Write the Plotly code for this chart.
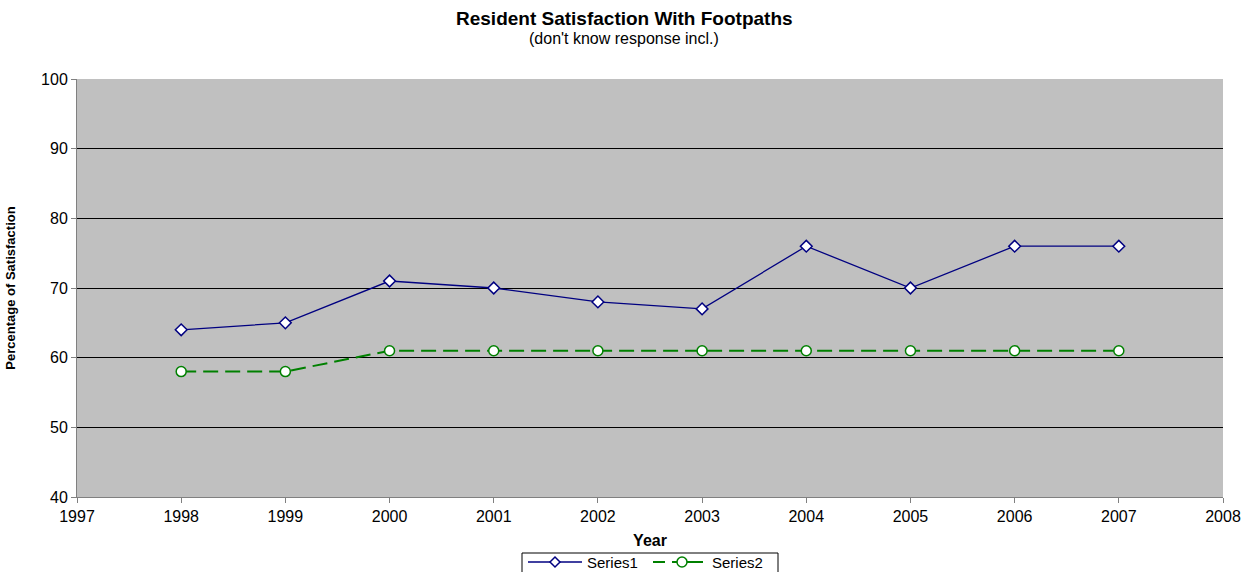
import plotly.graph_objects as go

years = [1998, 1999, 2000, 2001, 2002, 2003, 2004, 2005, 2006, 2007]
series1 = [64, 65, 71, 70, 68, 67, 76, 70, 76, 76]
series2 = [58, 58, 61, 61, 61, 61, 61, 61, 61, 61]
series_names = ["Series1", "Series2"]
x_ticks = list(range(1997, 2009))
y_ticks = [40, 50, 60, 70, 80, 90, 100]

FONT = "Liberation Sans, Arial, sans-serif"
W, H = 1253, 572
PLOT_LEFT, PLOT_RIGHT = 77, 1223
PLOT_TOP, PLOT_BOTTOM = 79, 497
NAVY, GREEN = "#000080", "#008000"


def paper_y(px):
    """Pixel row in the page -> paper fraction of the plotting area."""
    return (PLOT_BOTTOM - px) / (PLOT_BOTTOM - PLOT_TOP)


def paper_x(px):
    """Pixel column in the page -> paper fraction of the plotting area."""
    return (px - PLOT_LEFT) / (PLOT_RIGHT - PLOT_LEFT)


fig = go.Figure()
fig.add_trace(go.Scatter(
    x=years, y=series1, name=series_names[0], mode="lines+markers",
    line=dict(color=NAVY, width=1.3),
    marker=dict(symbol="diamond", size=9, color="white",
                line=dict(color=NAVY, width=1.5)),
))
fig.add_trace(go.Scatter(
    x=years, y=series2, name=series_names[1], mode="lines+markers",
    line=dict(color=GREEN, width=2, dash="15px,7px"),
    marker=dict(symbol="circle", size=10, color="white",
                line=dict(color=GREEN, width=1.5)),
))

# ---- legend box drawn below the axis (keeps it tight to the page bottom) ----
LEG_Y = 562
shapes = [
    dict(type="rect", xref="paper", yref="paper",
         x0=paper_x(522), x1=paper_x(778), y0=paper_y(553), y1=paper_y(576),
         line=dict(color="black", width=1), fillcolor="white", layer="above"),
    # Series1 sample: solid navy line with a diamond
    dict(type="line", xref="paper", yref="paper",
         x0=paper_x(528), x1=paper_x(582), y0=paper_y(LEG_Y), y1=paper_y(LEG_Y),
         line=dict(color=NAVY, width=1.3), layer="above"),
    dict(type="path", xref="paper", yref="paper",
         path="M {a},{m} L {c},{t} L {b},{m} L {c},{btm} Z".format(
             a=paper_x(550), b=paper_x(560), c=paper_x(555),
             m=paper_y(LEG_Y), t=paper_y(LEG_Y - 5), btm=paper_y(LEG_Y + 5)),
         line=dict(color=NAVY, width=1.5), fillcolor="white", layer="above"),
    # Series2 sample: dashed green line with a circle
    dict(type="line", xref="paper", yref="paper",
         x0=paper_x(653), x1=paper_x(665), y0=paper_y(LEG_Y), y1=paper_y(LEG_Y),
         line=dict(color=GREEN, width=2), layer="above"),
    dict(type="line", xref="paper", yref="paper",
         x0=paper_x(672), x1=paper_x(692), y0=paper_y(LEG_Y), y1=paper_y(LEG_Y),
         line=dict(color=GREEN, width=2), layer="above"),
    dict(type="line", xref="paper", yref="paper",
         x0=paper_x(692), x1=paper_x(703), y0=paper_y(LEG_Y), y1=paper_y(LEG_Y),
         line=dict(color=GREEN, width=2), layer="above"),
    dict(type="circle", xref="paper", yref="paper",
         x0=paper_x(677), x1=paper_x(687), y0=paper_y(LEG_Y - 5), y1=paper_y(LEG_Y + 5),
         line=dict(color=GREEN, width=1.5), fillcolor="white", layer="above"),
]

annotations = [
    dict(text="<b>Resident Satisfaction With Footpaths</b>",
         xref="paper", yref="paper", x=paper_x(624), y=paper_y(19),
         xanchor="center", yanchor="middle",
         showarrow=False, font=dict(family=FONT, size=19, color="black")),
    dict(text="(don't know response incl.)",
         xref="paper", yref="paper", x=paper_x(624), y=paper_y(38),
         xanchor="center", yanchor="middle",
         showarrow=False, font=dict(family=FONT, size=16, color="black")),
    dict(text=series_names[0], xref="paper", yref="paper",
         x=paper_x(586), y=paper_y(LEG_Y), xanchor="left", yanchor="middle",
         showarrow=False, borderpad=0, font=dict(family=FONT, size=15, color="black")),
    dict(text=series_names[1], xref="paper", yref="paper",
         x=paper_x(711), y=paper_y(LEG_Y), xanchor="left", yanchor="middle",
         showarrow=False, borderpad=0, font=dict(family=FONT, size=15, color="black")),
]

fig.update_layout(
    width=W, height=H,
    margin=dict(l=PLOT_LEFT, r=W - PLOT_RIGHT, t=PLOT_TOP, b=H - PLOT_BOTTOM,
                autoexpand=False),
    paper_bgcolor="white",
    plot_bgcolor="#c0c0c0",
    font=dict(family=FONT, size=15, color="black"),
    showlegend=False,
    xaxis=dict(
        range=[1997, 2008], tickvals=x_ticks, ticktext=[str(v) for v in x_ticks],
        showgrid=False, zeroline=False,
        showline=True, linecolor="#808080", linewidth=1,
        ticks="outside", ticklen=5, tickcolor="#808080",
        title=dict(text="<b>Year</b>", font=dict(size=16), standoff=10),
        tickfont=dict(size=16),
    ),
    yaxis=dict(
        range=[40, 100], tickvals=y_ticks,
        showgrid=True, gridcolor="black", gridwidth=1,
        zeroline=False,
        showline=True, linecolor="#808080", linewidth=1,
        ticks="outside", ticklen=5, tickcolor="#808080",
        title=dict(text="<b>Percentage of Satisfaction</b>", font=dict(size=13), standoff=22),
        tickfont=dict(size=16),
    ),
    shapes=shapes,
    annotations=annotations,
)

fig.write_html("out.html")
